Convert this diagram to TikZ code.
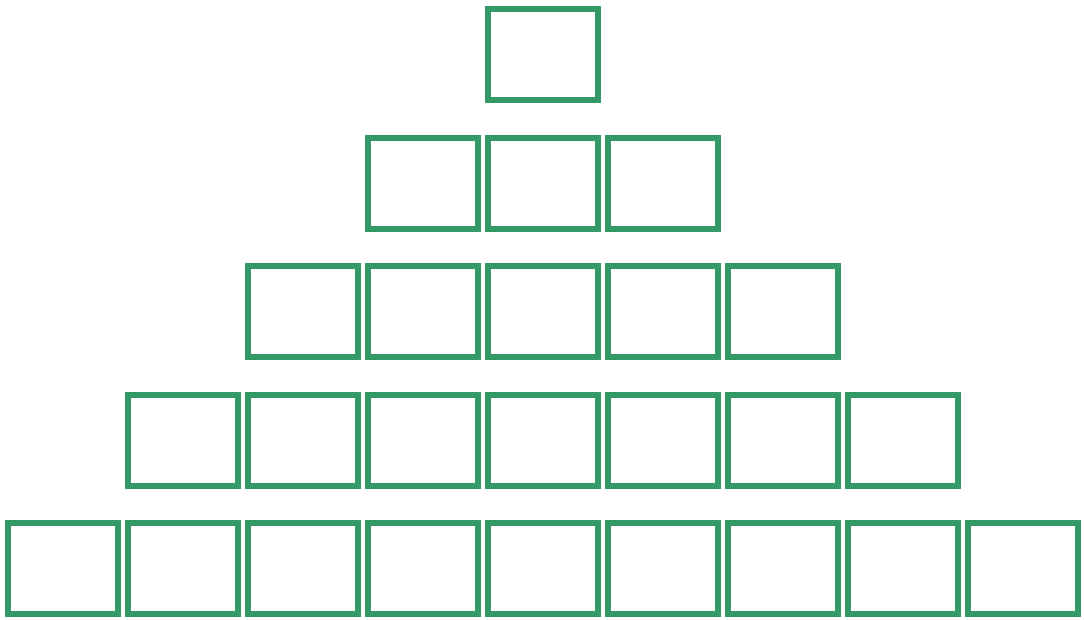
\documentclass[tikz,border=0pt]{standalone}
\usepackage{tikz}
\usetikzlibrary{positioning}
\definecolor{PyrGreen}{RGB}{52,153,102}

\begin{document}
\begin{tikzpicture}[
    x=1pt, y=-1pt,
    cell/.style={draw=PyrGreen, line width=6pt, minimum width=110pt, minimum height=91pt, inner sep=0pt, outer sep=0pt}
  ]
    \useasboundingbox (0,0) rectangle (1084,619);
    % pyramid rows: row r has 2r+1 boxes
    \foreach \r in {0,...,4} {
      \pgfmathtruncatemacro{\last}{2*\r}
      \foreach \k in {0,...,\last} {
        \node[cell] (b-\r-\k) at ({543+(\k-\r)*120}, {54.5+\r*128.5}) {};
      }
    }
  \end{tikzpicture}
\end{document}
